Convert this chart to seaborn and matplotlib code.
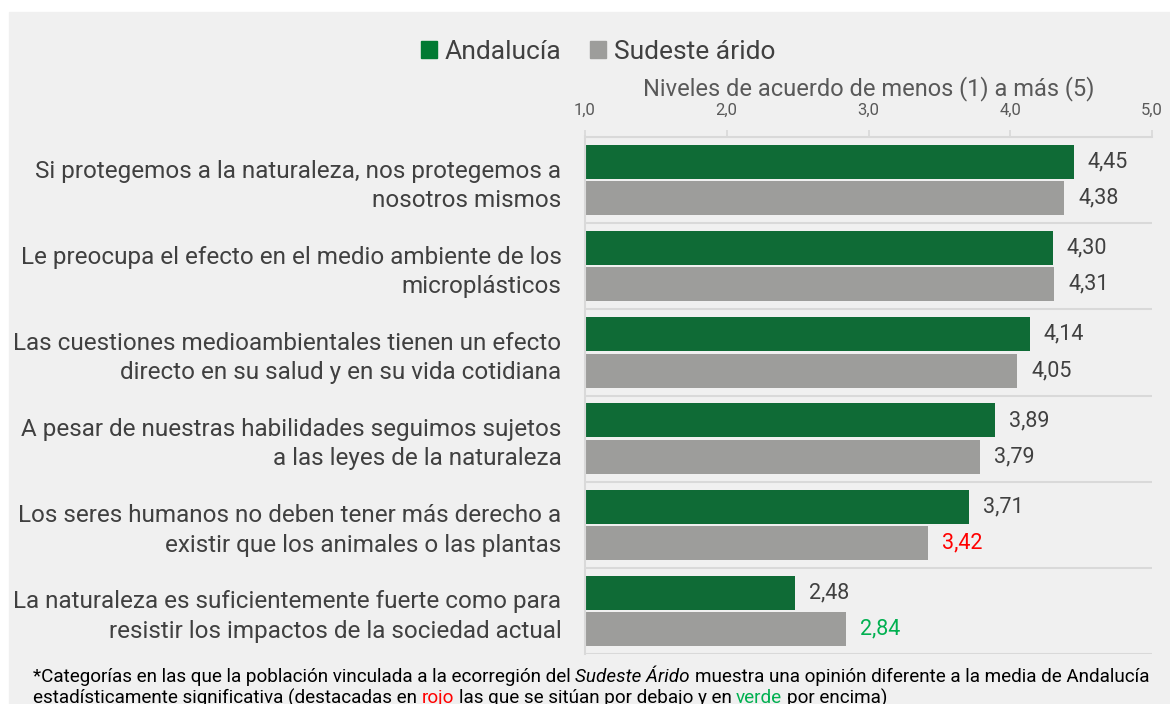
import matplotlib
matplotlib.use("Agg")
import matplotlib.pyplot as plt
import numpy as np
import pandas as pd
import seaborn as sns

# ── Data ─────────────────────────────────────────────────────────────────────
categorias = [
    "Si protegemos a la naturaleza, nos protegemos a\nnosotros mismos",
    "Le preocupa el efecto en el medio ambiente de los\nmicroplásticos",
    "Las cuestiones medioambientales tienen un efecto\ndirecto en su salud y en su vida cotidiana",
    "A pesar de nuestras habilidades seguimos sujetos\na las leyes de la naturaleza",
    "Los seres humanos no deben tener más derecho a\nexistir que los animales o las plantas",
    "La naturaleza es suficientemente fuerte como para\nresistir los impactos de la sociedad actual",
]
andalucia = [4.45, 4.30, 4.14, 3.89, 3.71, 2.48]
sudeste = [4.38, 4.31, 4.05, 3.79, 3.42, 2.84]
sudeste_sig = ["", "", "", "", "bajo", "encima"]
series = ["Andalucía", "Sudeste árido"]
x_ticks = [1.0, 2.0, 3.0, 4.0, 5.0]

# ── Style ────────────────────────────────────────────────────────────────────
sns.set_theme(style="white")
plt.rcParams["font.family"] = ["Roboto", "DejaVu Sans"]
BG = "#f0f0f0"
TXT = "#404040"
COLORS = {"Andalucía": "#007a33", "Sudeste árido": "#9d9d9b"}
SIG_COLORS = {"": TXT, "bajo": "#ff0000", "encima": "#00b050"}

df = pd.DataFrame({
    "cat": categorias * 2,
    "valor": andalucia + sudeste,
    "serie": [series[0]] * len(categorias) + [series[1]] * len(categorias),
})

W, H = 1170, 704
fig = plt.figure(figsize=(W / 100, H / 100), dpi=100, facecolor="white")
fig.patches.append(plt.Rectangle((9 / W, 0), 1, 1 - 12 / H,
                                 transform=fig.transFigure, color=BG, zorder=-5))
ax = fig.add_axes([585 / W, 1 - 654 / H, (1152 - 585) / W, 517 / H])
ax.set_facecolor(BG)

sns.barplot(data=df, y="cat", x="valor", hue="serie", order=categorias,
            hue_order=series, palette=COLORS, orient="h", width=0.84, gap=0.06,
            linewidth=0, ax=ax, legend=False)

ax.set_xlim(1, 5)
ax.set_ylim(len(categorias) - 0.5, -0.5)

# value labels
for cont, serie in zip(ax.containers, series):
    vals = andalucia if serie == series[0] else sudeste
    labels = [f"{v:.2f}".replace(".", ",") for v in vals]
    texts = ax.bar_label(cont, labels=labels, padding=10, fontsize=15.5, color=TXT)
    if serie == series[1]:
        for t, s in zip(texts, sudeste_sig):
            t.set_color(SIG_COLORS[s])

# axes cosmetics
for i in range(len(categorias) + 1):
    ax.axhline(i - 0.5, color="#d9d9d9", lw=1.5, zorder=0)
for side in ["right", "bottom"]:
    ax.spines[side].set_visible(False)
for side in ["left", "top"]:
    ax.spines[side].set_color("#d9d9d9")
    ax.spines[side].set_linewidth(1.5)

ax.xaxis.tick_top()
ax.xaxis.set_label_position("top")
ax.set_xticks(x_ticks)
ax.set_xticklabels([f"{v:.1f}".replace(".", ",") for v in x_ticks],
                   fontsize=12, color="#595959")
ax.tick_params(axis="x", top=True, length=5, width=1.2, color="#d9d9d9", pad=9)
ax.set_xlabel("Niveles de acuerdo de menos (1) a más (5)", fontsize=17,
              color="#595959", labelpad=5)
ax.set_ylabel("")
ax.tick_params(axis="y", left=False, pad=11)
ax.set_yticks(range(len(categorias)))
ax.set_yticklabels(categorias, fontsize=17.5, color=TXT, linespacing=1.35)

# legend
handles = [plt.Rectangle((0, 0), 1, 1, color=COLORS[s]) for s in series]
fig.legend(handles, series, loc="center", bbox_to_anchor=(598 / W, 1 - 52 / H),
           ncol=2, frameon=False, fontsize=19, handlelength=0.6, handleheight=0.6,
           handletextpad=0.3, columnspacing=1.1, labelcolor=TXT)

# footnote with mixed styles
renderer = fig.canvas.get_renderer()


def _width(s, **kw):
    t = fig.text(0, 0, s, **kw)
    w = t.get_window_extent(renderer).width
    t.remove()
    return w


def rich_line(x_px, y_frac, pieces, size):
    space = _width("a a", fontsize=size) - _width("aa", fontsize=size)
    x = x_px
    for text, kw in pieces:
        lead = len(text) - len(text.lstrip(" "))
        trail = len(text) - len(text.rstrip(" "))
        x += lead * space
        body = text.strip(" ")
        t = fig.text(x / W, y_frac, body, fontsize=size, va="center", ha="left", **kw)
        x += t.get_window_extent(renderer).width + trail * space


FN = 13.6
line1 = [
    ("*Categorías en las que la población vinculada a la ecorregión del ", {"color": "black"}),
    ("Sudeste Árido", {"color": "black", "style": "italic"}),
    (" muestra una opinión diferente a la media de Andalucía", {"color": "black"}),
]
line2 = [
    ("estadísticamente significativa (destacadas en ", {"color": "black"}),
    ("rojo", {"color": "#ff0000"}),
    (" las que se sitúan por debajo y en ", {"color": "black"}),
    ("verde", {"color": "#00b050"}),
    (" por encima)", {"color": "black"}),
]
rich_line(33, 1 - 677 / H, line1, FN)
rich_line(33, 1 - 698 / H, line2, FN)

fig.savefig("out.png", dpi=100, facecolor="white")
